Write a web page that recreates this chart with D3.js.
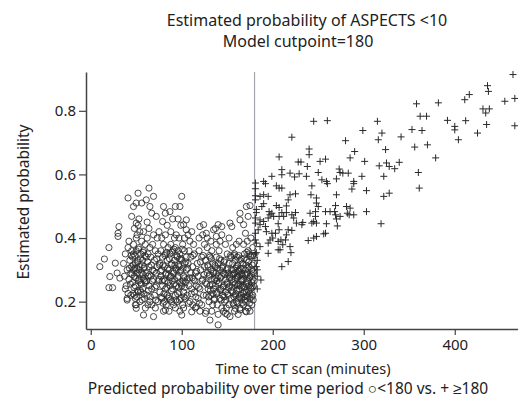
<!DOCTYPE html>
<html>
<head>
<meta charset="utf-8">
<script src="https://cdn.jsdelivr.net/npm/d3@7"></script>
<style>
  body { margin: 0; background: #fff; }
  text { font-family: "Noto Sans", sans-serif; fill: #222; }
</style>
</head>
<body>
<div id="chart"></div>
<script>
// time to CT (minutes), estimated probability
var cutpoint = 180;

// patients scanned < 180 min (circles)
var earlyPoints = [
  [10,0.31],[15,0.334],[20,0.37],[21,0.279],[20,0.244],[24,0.244],[30,0.405],[30,0.415],[31,0.436],
  [27,0.321],[29,0.29],[32,0.274],[41,0.526],[47,0.499],[50,0.51],[52,0.541],[45,0.468],[56,0.51],
  [53,0.46],[50,0.447],[64,0.557],[61,0.52],[65,0.499],[69,0.531],[67,0.478],[72,0.468],[80,0.499],
  [82,0.478],[79,0.452],[87,0.483],[93,0.499],[100,0.531],[98,0.499],[102,0.442],[105,0.457],[105,0.426],
  [120,0.436],[124,0.442],[127,0.415],[135,0.426],[138,0.405],[140,0.442],[144,0.436],[153,0.447],
  [155,0.436],[164,0.478],[164,0.457],[168,0.442],[171,0.499],[175,0.502],[173,0.468],[170,0.415],
  [69,0.153],[100,0.158],[140,0.127],[131,0.142],[153,0.153],[171,0.168],[58,0.158],[82,0.174],
  [50,0.179],[49,0.19],[40,0.205],[41,0.226],[111,0.168],[116,0.184],[126,0.163],[148,0.163],[159,0.179],[164,0.174],
  [36,0.32],[37,0.28],[38,0.35],[39,0.25],[40,0.30],[41,0.37],[42,0.27],[43,0.33],[44,0.22],[44,0.29],[45,0.36],
  [45,0.31],[38,0.24],[42,0.39],[40,0.21],
  [46,0.26],[46,0.34],[47,0.30],[47,0.38],[48,0.22],[48,0.28],[49,0.32],[49,0.25],[50,0.36],[50,0.19],[51,0.29],
  [51,0.41],[52,0.33],[52,0.23],[53,0.27],[53,0.37],[54,0.31],[54,0.20],[55,0.35],[55,0.26],[48,0.43],[52,0.44],
  [50,0.40],[54,0.42],[47,0.35],[53,0.30],[49,0.21],[55,0.23],
  [56,0.29],[56,0.39],[57,0.24],[57,0.33],[58,0.27],[58,0.36],[59,0.21],[59,0.31],[60,0.38],[60,0.26],[61,0.29],
  [61,0.34],[62,0.22],[62,0.40],[63,0.28],[63,0.35],[64,0.25],[64,0.31],[65,0.37],[65,0.20],[58,0.42],[62,0.45],
  [64,0.43],[60,0.18],[63,0.19],
  [66,0.28],[66,0.34],[67,0.24],[68,0.30],[68,0.38],[69,0.27],[70,0.33],[70,0.22],[71,0.36],[72,0.29],[72,0.25],
  [73,0.31],[74,0.20],[74,0.35],[75,0.27],[69,0.41],[73,0.40],[75,0.42],[67,0.19],[71,0.18],
  [76,0.32],[76,0.23],[77,0.28],[77,0.36],[78,0.21],[78,0.30],[79,0.25],[79,0.34],[80,0.38],[80,0.27],[81,0.20],
  [81,0.31],[82,0.24],[82,0.35],[83,0.29],[83,0.19],[84,0.33],[84,0.22],[85,0.37],[85,0.26],[78,0.40],[82,0.41],
  [84,0.44],[80,0.17],
  [86,0.30],[86,0.21],[87,0.35],[87,0.25],[88,0.28],[88,0.38],[89,0.20],[89,0.32],[90,0.24],[90,0.36],[91,0.29],
  [91,0.19],[92,0.33],[92,0.27],[93,0.22],[93,0.37],[94,0.30],[94,0.25],[95,0.34],[95,0.20],[88,0.42],[92,0.40],
  [90,0.46],[94,0.41],[86,0.17],[93,0.18],
  [96,0.28],[96,0.36],[97,0.23],[97,0.31],[98,0.26],[98,0.35],[99,0.21],[99,0.30],[100,0.33],[100,0.25],[101,0.38],
  [101,0.19],[102,0.28],[102,0.23],[103,0.32],[103,0.36],[104,0.26],[104,0.21],[105,0.30],[105,0.34],[97,0.40],
  [99,0.44],[103,0.40],[98,0.17],[102,0.18],[96,0.46],
  [106,0.27],[106,0.22],[107,0.32],[108,0.25],[108,0.36],[109,0.20],[110,0.29],[110,0.34],[111,0.24],[112,0.31],
  [112,0.19],[113,0.27],[114,0.23],[114,0.35],[115,0.29],[109,0.39],[113,0.38],[107,0.41],[111,0.42],[115,0.18],
  [116,0.25],[117,0.32],[118,0.21],[118,0.28],[119,0.36],[120,0.24],[121,0.30],[122,0.19],[122,0.34],[123,0.27],
  [124,0.22],[125,0.31],[125,0.38],[119,0.40],[123,0.41],[120,0.17],
  [126,0.26],[126,0.33],[127,0.22],[128,0.29],[128,0.37],[129,0.24],[129,0.31],[130,0.20],[130,0.28],[131,0.34],
  [131,0.25],[132,0.30],[132,0.22],[133,0.27],[133,0.36],[134,0.19],[134,0.32],[135,0.24],[135,0.29],[128,0.40],
  [132,0.39],[127,0.17],[133,0.17],
  [136,0.27],[136,0.21],[137,0.31],[137,0.25],[138,0.34],[138,0.29],[139,0.23],[139,0.19],[140,0.28],[140,0.32],
  [141,0.26],[141,0.36],[142,0.21],[142,0.30],[143,0.24],[143,0.33],[144,0.28],[144,0.18],[145,0.31],[145,0.22],
  [138,0.38],[142,0.39],[144,0.41],[140,0.16],[137,0.43],
  [146,0.25],[146,0.29],[147,0.20],[147,0.33],[148,0.27],[148,0.23],[149,0.30],[149,0.18],[150,0.26],[150,0.35],
  [151,0.22],[151,0.29],[152,0.32],[152,0.19],[153,0.25],[153,0.28],[154,0.21],[154,0.34],[155,0.27],[155,0.30],
  [148,0.38],[152,0.40],[150,0.16],[146,0.17],
  [156,0.23],[156,0.32],[157,0.26],[157,0.19],[158,0.29],[158,0.35],[159,0.22],[159,0.27],[160,0.31],[160,0.20],
  [161,0.25],[161,0.34],[162,0.28],[162,0.21],[163,0.30],[163,0.24],[164,0.33],[164,0.18],[165,0.27],[165,0.22],
  [156,0.37],[160,0.38],[163,0.39],[158,0.17],[162,0.16],[157,0.30],[159,0.33],[161,0.28],[164,0.25],
  [166,0.29],[166,0.21],[167,0.32],[167,0.25],[168,0.19],[168,0.27],[169,0.35],[169,0.23],[170,0.30],[170,0.20],
  [171,0.26],[171,0.33],[172,0.22],[172,0.29],[173,0.36],[173,0.18],[174,0.25],[174,0.31],[175,0.21],[175,0.28],
  [176,0.34],[176,0.24],[177,0.19],[177,0.30],[178,0.27],[178,0.22],[179,0.32],[179,0.25],[168,0.38],[172,0.39],
  [176,0.40],[178,0.37],[170,0.17],[175,0.17],[167,0.28],[171,0.23],[174,0.35],[177,0.26],[179,0.29]
];

// the darker, overlapping core of the < 180 cloud
var earlyCore = [
  [43.5,0.255],[45.5,0.285],[46.5,0.315],[47.5,0.245],[48.5,0.345],[49.5,0.275],[50.5,0.305],[51.5,0.235],
  [52.5,0.365],[53.5,0.285],[54.5,0.335],[55.5,0.255],[56.5,0.315],[57.5,0.285],[58.5,0.225],[59.5,0.345],
  [44.5,0.345],[46.5,0.225],[50.5,0.215],[52.5,0.265],[54.5,0.235],[57.5,0.355],[59.5,0.265],[48.5,0.305],
  [51.5,0.325],[56.5,0.205],[42.5,0.305],[58.5,0.305],
  [61.5,0.265],[62.5,0.325],[63.5,0.235],[64.5,0.285],[66.5,0.315],[67.5,0.265],[69.5,0.295],[70.5,0.245],
  [72.5,0.335],[74.5,0.265],[76.5,0.295],[77.5,0.215],[65.5,0.215],[71.5,0.205],[75.5,0.315],
  [78.5,0.265],[79.5,0.315],[80.5,0.225],[81.5,0.345],[82.5,0.285],[83.5,0.245],[84.5,0.305],[85.5,0.215],
  [86.5,0.335],[87.5,0.275],[88.5,0.235],[89.5,0.355],[90.5,0.295],[91.5,0.255],[92.5,0.315],[93.5,0.205],
  [94.5,0.345],[95.5,0.275],[96.5,0.245],[97.5,0.335],[98.5,0.295],[99.5,0.255],[100.5,0.365],[101.5,0.305],
  [102.5,0.215],[103.5,0.275],[104.5,0.325],[79.5,0.195],[83.5,0.355],[87.5,0.205],[91.5,0.365],[95.5,0.225],
  [99.5,0.335],[103.5,0.245],[85.5,0.285],[89.5,0.265],[93.5,0.305],[97.5,0.205],[101.5,0.265],[81.5,0.265],
  [88.5,0.315],[96.5,0.315],
  [106.5,0.305],[108.5,0.275],[110.5,0.225],[112.5,0.345],[114.5,0.265],[116.5,0.295],[118.5,0.245],
  [120.5,0.325],[122.5,0.265],[124.5,0.285],[107.5,0.195],[111.5,0.275],[115.5,0.215],[119.5,0.195],[123.5,0.345],
  [127.5,0.255],[128.5,0.315],[129.5,0.215],[130.5,0.285],[131.5,0.235],[132.5,0.335],[133.5,0.255],
  [134.5,0.295],[135.5,0.205],[136.5,0.315],[137.5,0.275],[138.5,0.225],[139.5,0.305],[140.5,0.255],
  [141.5,0.335],[142.5,0.275],[143.5,0.205],[144.5,0.305],[145.5,0.245],[146.5,0.325],[147.5,0.285],
  [148.5,0.205],[149.5,0.255],[150.5,0.305],[151.5,0.245],[152.5,0.275],[153.5,0.345],[154.5,0.235],
  [130.5,0.345],[134.5,0.225],[138.5,0.265],[142.5,0.235],[146.5,0.215],[150.5,0.225],[154.5,0.285],
  [155.5,0.245],[156.5,0.285],[157.5,0.215],[157.5,0.345],[158.5,0.255],[159.5,0.305],[160.5,0.235],
  [160.5,0.275],[161.5,0.195],[161.5,0.315],[162.5,0.255],[162.5,0.345],[163.5,0.215],[163.5,0.285],
  [164.5,0.305],[165.5,0.245],[165.5,0.335],[166.5,0.265],[166.5,0.195],[167.5,0.225],[167.5,0.305],
  [168.5,0.245],[168.5,0.335],[169.5,0.285],[169.5,0.205],[170.5,0.255],[170.5,0.315],[171.5,0.215],
  [171.5,0.355],[172.5,0.265],[172.5,0.305],[173.5,0.235],[173.5,0.325],[174.5,0.195],[174.5,0.275],
  [175.5,0.245],[175.5,0.345],[176.5,0.285],[176.5,0.215],[177.5,0.315],[177.5,0.245],[178.5,0.295],
  [178.5,0.205],[179.5,0.265],[179.5,0.345],[156.5,0.195],[159.5,0.225],[162.5,0.295],[165.5,0.285],
  [168.5,0.215],[171.5,0.285],[174.5,0.225],[177.5,0.345]
];

// patients scanned >= 180 min (plus signs)
var latePoints = [
  [464,0.914],[436,0.879],[437,0.861],[416,0.851],[411,0.835],[455,0.83],[466,0.839],[382,0.825],[358,0.822],
  [431,0.806],[438,0.806],[434,0.793],[245,0.767],[260,0.769],[315,0.767],[362,0.783],[369,0.783],[392,0.77],
  [412,0.769],[400,0.751],[400,0.74],[435,0.757],[425,0.73],[466,0.753],[353,0.741],[364,0.738],[299,0.738],
  [320,0.73],[316,0.709],[341,0.718],[221,0.717],[280,0.706],[404,0.709],[356,0.686],[370,0.693],[324,0.678],
  [290,0.672],[240,0.68],[240,0.662],[207,0.655],[285,0.652],[301,0.641],[379,0.652],[228,0.639],[231,0.639],
  [252,0.641],[258,0.648],[238,0.625],[317,0.627],[325,0.636],[328,0.625],[339,0.638],[334,0.618],[210,0.615],
  [210,0.599],[199,0.594],[219,0.604],[224,0.592],[229,0.602],[237,0.594],[250,0.606],[273,0.617],[274,0.606],
  [277,0.604],[283,0.604],[270,0.586],[298,0.594],[322,0.594],[360,0.606],[254,0.583],[259,0.578],[260,0.571],
  [243,0.564],[289,0.578],[289,0.571],[287,0.554],[270,0.536],[303,0.549],[322,0.531],[328,0.541],[361,0.557],
  [181,0.573],[190,0.578],[192,0.571],[181,0.533],[186,0.531],[190,0.536],[195,0.531],[204,0.564],[207,0.557],
  [210,0.557],[219,0.536],[225,0.539],[217,0.52],[215,0.501],[242,0.536],[248,0.526],[248,0.51],[250,0.499],
  [190,0.508],[188,0.499],[204,0.502],[207,0.496],[196,0.483],[199,0.478],[201,0.468],[197,0.473],[195,0.463],
  [182,0.48],[210,0.48],[215,0.48],[181,0.463],[186,0.457],[190,0.452],[206,0.445],[207,0.468],[212,0.468],
  [221,0.473],[225,0.48],[223,0.463],[226,0.447],[233,0.449],[232,0.442],[241,0.478],[247,0.483],[247,0.468],
  [248,0.447],[258,0.483],[263,0.483],[268,0.483],[269,0.473],[270,0.46],[274,0.468],[269,0.502],[281,0.499],
  [285,0.494],[282,0.478],[284,0.473],[289,0.473],[303,0.483],[245,0.452],[243,0.447],[259,0.445],[258,0.415],
  [271,0.438],[319,0.445],[248,0.405],[245,0.4],[239,0.392],[256,0.413],[181,0.447],[186,0.442],[184,0.426],
  [181,0.415],[192,0.436],[193,0.42],[199,0.415],[203,0.415],[207,0.426],[217,0.426],[221,0.424],[215,0.41],
  [181,0.394],[182,0.384],[186,0.373],[182,0.354],[197,0.394],[200,0.4],[195,0.384],[206,0.389],[209,0.394],
  [214,0.394],[211,0.379],[206,0.363],[208,0.363],[195,0.352],[219,0.373],[220,0.354],[217,0.326],[210,0.31],
  [187,0.268],[183,0.33],[183,0.30],[183,0.28],[183,0.24],[181,0.555],[181,0.52],[182,0.49],[181,0.35],[182,0.31]
];

var xTicks = [0, 100, 200, 300, 400];
var yTicks = [0.2, 0.4, 0.6, 0.8];

var width = 518, height = 410;
var svg = d3.select('#chart').append('svg')
    .attr('width', width)
    .attr('height', height);

var x = d3.scaleLinear().domain([-5.2, 469.5]).range([86, 518]);
var y = d3.scaleLinear().domain([0.114, 0.922]).range([329, 72]);

// cutpoint line
svg.append('line')
    .attr('x1', x(cutpoint)).attr('x2', x(cutpoint))
    .attr('y1', y.range()[1]).attr('y2', y.range()[0])
    .attr('stroke', '#a4a8ae')
    .attr('stroke-width', 1.2);

// circles
svg.append('g')
    .selectAll('circle')
    .data(earlyPoints.concat(earlyCore))
    .enter()
    .append('circle')
    .attr('cx', d => x(d[0]))
    .attr('cy', d => y(d[1]))
    .attr('r', 3.1)
    .attr('fill', 'none')
    .attr('stroke', '#2a2a2a')
    .attr('stroke-width', 0.85);

// plus signs
svg.append('g')
    .selectAll('path')
    .data(latePoints)
    .enter()
    .append('path')
    .attr('transform', d => 'translate(' + x(d[0]) + ',' + y(d[1]) + ')')
    .attr('d', 'M-3.5,0H3.5M0,-3.5V3.5')
    .attr('stroke', '#2a2a2a')
    .attr('stroke-width', 1)
    .attr('fill', 'none');

// axes
var xAxis = svg.append('g')
    .attr('transform', 'translate(0,' + 329 + ')')
    .call(d3.axisBottom(x).tickValues(xTicks).tickSize(6).tickPadding(4).tickSizeOuter(0));
var yAxis = svg.append('g')
    .attr('transform', 'translate(' + 86 + ',0)')
    .call(d3.axisLeft(y).tickValues(yTicks).tickFormat(d3.format('.1f')).tickSize(7).tickPadding(3).tickSizeOuter(0));

[xAxis, yAxis].forEach(function(a) {
    a.select('.domain').attr('stroke', '#444').attr('stroke-width', 1.5);
    a.selectAll('.tick line').attr('stroke', '#444').attr('stroke-width', 1.2);
    a.selectAll('.tick text').attr('font-size', 15).attr('fill', '#222')
        .attr('font-family', '"Noto Sans", sans-serif');
});

// titles
svg.append('text')
    .attr('x', 307).attr('y', 26)
    .attr('text-anchor', 'middle')
    .style('font-size', '16px')
    .text('Estimated probability of ASPECTS <10');
svg.append('text')
    .attr('x', 298).attr('y', 47)
    .attr('text-anchor', 'middle')
    .style('font-size', '16px')
    .text('Model cutpoint=180');

svg.append('text')
    .attr('x', 303).attr('y', 374)
    .attr('text-anchor', 'middle')
    .style('font-size', '14.5px')
    .text('Time to CT scan (minutes)');
svg.append('text')
    .attr('x', 288).attr('y', 394)
    .attr('text-anchor', 'middle')
    .style('font-size', '15.5px')
    .text('Predicted probability over time period \u25CB<180 vs. + \u2265180');

svg.append('text')
    .attr('transform', 'translate(29,202) rotate(-90)')
    .attr('text-anchor', 'middle')
    .style('font-size', '15.5px')
    .text('Estimated probability');
</script>
</body>
</html>
